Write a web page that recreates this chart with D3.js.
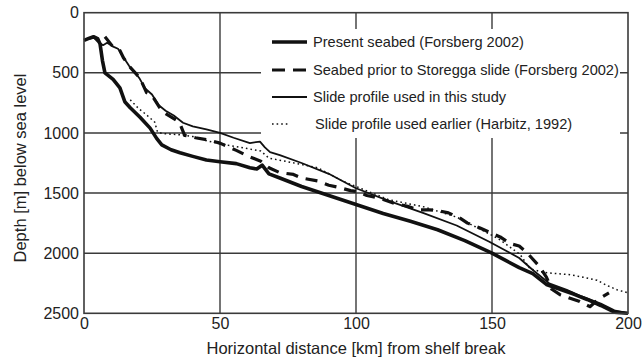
<!DOCTYPE html>
<html>
<head>
<meta charset="utf-8">
<script src="https://cdn.jsdelivr.net/npm/d3@7"></script>
<style>
  body { margin: 0; background: #fff; }
  svg { display: block; font-family: "Liberation Sans", Arial, sans-serif; }
  .tick-label { font-size: 16px; fill: #222; }
  .axis-title { font-size: 16.5px; fill: #222; }
  .legend-text { font-size: 14.6px; fill: #222; }
</style>
</head>
<body>
<div id="chart"></div>
<script>
// distance from shelf break [km], depth below sea level [m]
const presentSeabed = [
  [0, 230], [2, 212], [3.5, 200], [5, 215], [5.9, 260], [6.8, 400], [7.7, 500], [10.7, 555],
  [13.2, 625], [15, 740], [17, 790], [20.6, 870], [24.3, 960], [26.7, 1045], [28.6, 1100],
  [32, 1140], [35.3, 1165], [40, 1195], [45, 1225], [50, 1240], [56, 1255], [61, 1290],
  [63.5, 1300], [65.5, 1268], [68, 1340], [72, 1375], [80, 1445], [90, 1520], [100, 1595],
  [110, 1670], [120, 1735], [130, 1805], [140, 1895], [150, 2000], [155, 2060], [160, 2120],
  [165, 2170], [170, 2260], [175, 2300], [180, 2340], [185, 2385], [190, 2435], [195, 2490], [200, 2500]
];
const priorSeabed = [
  [7.7, 200], [10.7, 285], [13.2, 315], [14.5, 375], [17, 455], [19, 505], [20.5, 540], [23, 665],
  [25, 690], [28, 795], [30, 840], [34, 895], [35.5, 935], [37, 1020], [41, 1040], [46, 1060],
  [50, 1085], [56, 1145], [61, 1200], [65, 1235], [68, 1290], [72, 1330], [77, 1345], [80, 1375],
  [86, 1400], [90, 1435], [94, 1455], [98, 1480], [101, 1490], [104, 1520], [109, 1545], [114, 1585],
  [119, 1610], [123, 1640], [127, 1640], [130, 1645], [134, 1665], [138, 1705], [141, 1750],
  [145.6, 1790], [149, 1825], [153, 1865], [156.6, 1920], [160, 1940], [163, 2000], [167.6, 2115],
  [170, 2200], [172, 2300], [175, 2345], [178.7, 2375], [182, 2400], [186, 2445], [189, 2385], [193, 2330]
];
const slideProfile = [
  [0, 230], [2, 212], [3.5, 205], [5, 240], [7, 270], [8.5, 250], [10.5, 280], [12.5, 300],
  [14.5, 370], [16.5, 440], [18.5, 490], [20.5, 550], [22.5, 630], [25, 680], [27.5, 770],
  [30, 815], [33, 855], [36.4, 915], [40, 945], [45, 970], [50, 1000], [55, 1040], [61, 1084],
  [64.7, 1072], [66.5, 1120], [68.4, 1160], [72, 1185], [80, 1250], [90, 1340], [100, 1460],
  [112, 1565], [124.6, 1665], [137, 1770], [149, 1905], [156, 1990], [160, 2040], [165, 2140],
  [171, 2250], [177.5, 2305], [183, 2360], [190, 2420], [195, 2475], [200, 2500]
];
const harbitzProfile = [
  [17, 725], [20, 795], [23, 850], [26, 910], [27, 990], [28.7, 1005], [35, 1015], [40, 1030],
  [46, 1070], [50, 1090], [55, 1110], [60, 1130], [65, 1150], [68, 1210], [75, 1240], [86, 1290],
  [95, 1400], [100, 1445], [112, 1555], [125, 1615], [137, 1700], [149, 1840], [153, 1890],
  [160.3, 2010], [164, 2130], [169, 2160], [174, 2170], [179, 2180], [183.5, 2200], [188.6, 2225],
  [192, 2265], [196, 2305], [200, 2330]
];
const xTicks = [0, 50, 100, 150, 200];
const yTicks = [0, 500, 1000, 1500, 2000, 2500];
const legendLabels = [
  'Present seabed (Forsberg 2002)',
  'Seabed prior to Storegga slide (Forsberg 2002)',
  'Slide profile used in this study',
  'Slide profile used earlier (Harbitz, 1992)'
];

const width = 643, height = 363;
const plot = { left: 84, right: 628, top: 12.7, bottom: 313.3 };
const x = d3.scaleLinear().domain([0, 200]).range([plot.left, plot.right]);
const y = d3.scaleLinear().domain([0, 2500]).range([plot.top, plot.bottom]);
const gridColor = '#3a3a3a';

const svg = d3.select('#chart').append('svg').attr('width', width).attr('height', height);

// grid
svg.selectAll('.hgrid').data(yTicks.slice(1, -1)).enter().append('line')
  .attr('x1', plot.left).attr('x2', plot.right)
  .attr('y1', (d) => y(d)).attr('y2', (d) => y(d))
  .attr('stroke', gridColor).attr('stroke-width', 1.4);
svg.selectAll('.vgrid').data(xTicks.slice(1, -1)).enter().append('line')
  .attr('x1', (d) => x(d)).attr('x2', (d) => x(d))
  .attr('y1', plot.top).attr('y2', plot.bottom)
  .attr('stroke', gridColor).attr('stroke-width', 1.4);

// legend background hides the grid behind it
svg.append('rect').attr('x', 261).attr('y', 29).attr('width', 359).attr('height', 109).attr('fill', '#fff');

// profiles
const line = d3.line().x((d) => x(d[0])).y((d) => y(d[1]));
const series = [
  { data: presentSeabed, width: 3.6, dash: null },
  { data: priorSeabed, width: 3.2, dash: '12,8' },
  { data: slideProfile, width: 1.8, dash: null },
  { data: harbitzProfile, width: 1.5, dash: '1.6,3' }
];
series.forEach((s) => {
  svg.append('path').datum(s.data).attr('d', line)
    .attr('fill', 'none').attr('stroke', '#111')
    .attr('stroke-width', s.width).attr('stroke-dasharray', s.dash)
    .attr('stroke-linejoin', 'round');
});

// frame
svg.append('rect').attr('x', plot.left).attr('y', plot.top)
  .attr('width', plot.right - plot.left).attr('height', plot.bottom - plot.top)
  .attr('fill', 'none').attr('stroke', gridColor).attr('stroke-width', 1.6);

// axes labels
svg.append('g').attr('transform', 'translate(' + (plot.left - 5) + ',0)')
  .call(d3.axisLeft(y).tickValues(yTicks).tickSize(0).tickPadding(0).tickFormat(d3.format('d')))
  .call((g) => g.select('.domain').remove())
  .call((g) => g.selectAll('text').attr('class', 'tick-label').attr('fill', '#222').attr('font-size', null).attr('font-family', null));
svg.append('g').attr('transform', 'translate(0,' + (plot.bottom + 4) + ')')
  .call(d3.axisBottom(x).tickValues(xTicks).tickSize(0).tickPadding(0).tickFormat(d3.format('d')))
  .call((g) => g.select('.domain').remove())
  .call((g) => g.selectAll('text').attr('class', 'tick-label').attr('fill', '#222').attr('font-size', null).attr('font-family', null));

svg.append('text').attr('class', 'axis-title')
  .attr('x', (plot.left + plot.right) / 2).attr('y', 354)
  .attr('text-anchor', 'middle').text('Horizontal distance [km] from shelf break');
svg.append('text').attr('class', 'axis-title')
  .attr('transform', 'translate(26,168) rotate(-90)')
  .attr('text-anchor', 'middle').text('Depth [m] below sea level');

// legend
const legendRows = [42, 70, 97, 124];
const legend = svg.append('g');
legendLabels.forEach((label, i) => {
  const s = series[i];
  legend.append('line')
    .attr('x1', 272).attr('x2', i === 3 ? 290 : 307)
    .attr('y1', legendRows[i]).attr('y2', legendRows[i])
    .attr('stroke', '#111').attr('stroke-width', s.width)
    .attr('stroke-dasharray', i === 1 ? '13,8' : s.dash);
  legend.append('text').attr('class', 'legend-text')
    .attr('x', i === 3 ? 315 : 313).attr('y', legendRows[i] + 5)
    .text(label);
});
</script>
</body>
</html>
